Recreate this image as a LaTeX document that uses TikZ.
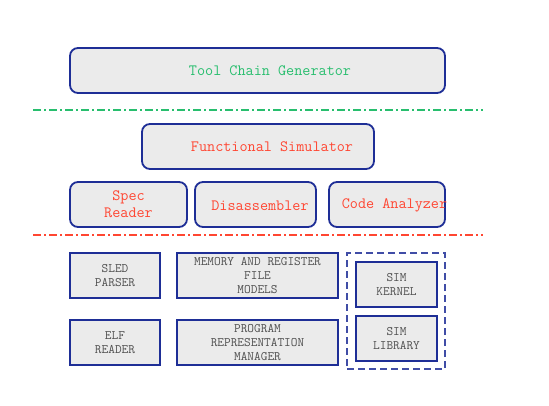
\documentclass[tikz,border=0pt]{standalone}
\usepackage{fontspec}
\usepackage{tikz}

\definecolor{boxblue}{RGB}{30,46,150}
\definecolor{boxfill}{RGB}{235,235,235}
\definecolor{toolgreen}{RGB}{40,190,110}
\definecolor{simred}{RGB}{255,70,50}
\definecolor{capgray}{RGB}{80,80,80}

\begin{document}
\begin{tikzpicture}[x=1bp, y=-1bp,
	roundbox/.style={draw=boxblue, fill=boxfill, line width=1.8bp, rounded corners=8bp, minimum height=45bp, inner sep=0pt},
	flatbox/.style={draw=boxblue, fill=boxfill, line width=1.8bp, minimum height=45bp, inner sep=0pt},
	greentext/.style={text=toolgreen, font=\ttfamily\fontsize{15.8}{17}\selectfont, align=center},
	redtext/.style={text=simred, font=\ttfamily\fontsize{15.8}{17}\selectfont, align=center},
	captext/.style={text=capgray, font=\ttfamily\fontsize{13}{14.3}\selectfont, align=center},
	dashdot/.style={line width=1.1bp, dash pattern=on 8bp off 3bp on 2bp off 3bp}]
	\useasboundingbox (0,0) rectangle (549,405);

	\node [roundbox, minimum width=375bp, label={[greentext, xshift=12.5bp]center:Tool Chain Generator}] (tcg) at (257.5,70.5) {};

	\coordinate (gl) at (33,110);
	\coordinate (gr) at (483,110);
	\draw [dashdot, toolgreen] (gl) -- (gr);

	\node [roundbox, minimum width=232bp, label={[redtext, xshift=14bp]center:Functional Simulator}] (fsim) at (258,146.5) {};
	\node [roundbox, minimum width=117bp, redtext] (spec) at (128.5,204.5) {Spec\\Reader};
	\node [roundbox, minimum width=121bp, label={[redtext, xshift=4.5bp, yshift=-1bp]center:Disassembler}] (dis) at (255.5,204.5) {};
	\node [roundbox, minimum width=116bp, label={[redtext, xshift=7.5bp, yshift=-1bp]center:Code Analyzer}] (code) at (387,204.5) {};

	\coordinate (rl) at (33,235);
	\coordinate (rr) at (483,235);
	\draw [dashdot, simred] (rl) -- (rr);

	\node [flatbox, minimum width=90bp, captext] (sled) at (115,275.5) {SLED\\PARSER};
	\node [flatbox, minimum width=161bp, captext] (mem) at (257.5,275.5) {MEMORY AND REGISTER\\FILE\\MODELS};
	\node [flatbox, minimum width=90bp, captext] (elf) at (115,342.5) {ELF\\READER};
	\node [flatbox, minimum width=161bp, captext] (prog) at (257.5,342.5) {PROGRAM\\REPRESENTATION\\MANAGER};

	% simulator group
	\node [draw=boxblue!85, line width=1.2bp, dash pattern=on 7bp off 4bp, minimum width=98bp, minimum height=116bp] (simgrp) at (396,311) {};
	\node [flatbox, minimum width=81bp, captext] (kern) at (396.5,284.5) {SIM\\KERNEL};
	\node [flatbox, minimum width=81bp, captext] (lib) at (396.5,338.5) {SIM\\LIBRARY};
\end{tikzpicture}
\end{document}
